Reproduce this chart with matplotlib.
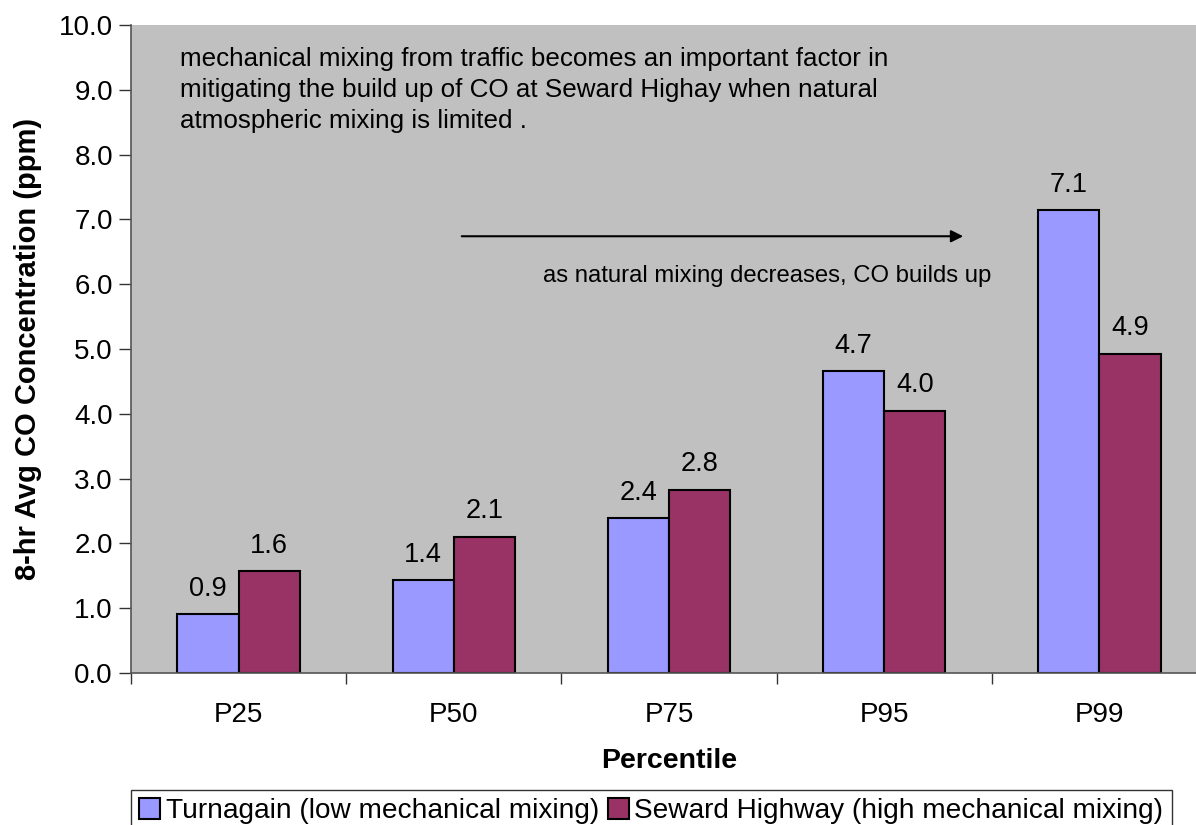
import numpy as np
import matplotlib
matplotlib.use("Agg")
import matplotlib.pyplot as plt

plt.rcParams['font.family'] = ['Liberation Sans', 'DejaVu Sans']

# Data
categories = ["P25", "P50", "P75", "P95", "P99"]
turnagain = [0.91, 1.43, 2.39, 4.66, 7.14]
seward = [1.57, 2.10, 2.83, 4.05, 4.93]
turnagain_labels = ["0.9", "1.4", "2.4", "4.7", "7.1"]
seward_labels = ["1.6", "2.1", "2.8", "4.0", "4.9"]

W, H = 1196, 825
fig = plt.figure(figsize=(W / 100, H / 100), dpi=100)
# plot area runs off the right edge like the original
left, right, top, bottom = 131, 1207, 25, 673
ax = fig.add_axes([left / W, 1 - bottom / H, (right - left) / W, (bottom - top) / H])
ax.set_facecolor("#c0c0c0")

x = np.arange(len(categories))
bw = 0.284
b1 = ax.bar(x - bw / 2, turnagain, bw, color="#9999ff", edgecolor="black", linewidth=1.5,
            label="Turnagain (low mechanical mixing)")
b2 = ax.bar(x + bw / 2, seward, bw, color="#993366", edgecolor="black", linewidth=1.5,
            label="Seward Highway (high mechanical mixing)")
ax.bar_label(b1, labels=turnagain_labels, padding=9, fontsize=19.5)
ax.bar_label(b2, labels=seward_labels, padding=9, fontsize=19.5)

ax.set_xlim(-0.5, len(categories) - 0.5)
ax.set_ylim(0, 10)
yt = np.arange(0, 10.01, 1.0)
ax.set_yticks(yt)
ax.set_yticklabels([f"{v:.1f}" for v in yt], fontsize=20)
ax.set_xticks(x)
ax.set_xticklabels(categories, fontsize=20)
ax.set_xticks(np.arange(-0.5, len(categories), 1.0), minor=True)
ax.tick_params(axis="x", which="major", length=0, pad=21)
ax.tick_params(axis="x", which="minor", length=8, width=1, color="#333333")
ax.tick_params(axis="y", length=9, width=1, color="#333333", pad=4)

for s in ["top", "right"]:
    ax.spines[s].set_visible(False)
for s in ["left", "bottom"]:
    ax.spines[s].set_color("#555555")
    ax.spines[s].set_linewidth(1.2)

ax.set_ylabel("8-hr Avg CO Concentration (ppm)", fontsize=21, fontweight="bold", labelpad=12)
ax.set_xlabel("Percentile", fontsize=20.5, fontweight="bold", labelpad=14)

# annotations
ax.text(-0.272, 9.66,
        "mechanical mixing from traffic becomes an important factor in\n"
        "mitigating the build up of CO at Seward Highay when natural\n"
        "atmospheric mixing is limited .",
        fontsize=18.75, va="top", ha="left", linespacing=1.38)
ax.annotate("", xy=(3.38, 6.74), xytext=(1.024, 6.74),
            arrowprops=dict(arrowstyle="-|>", color="black", lw=1.5, mutation_scale=18))
ax.text(1.414, 6.13, "as natural mixing decreases, CO builds up", fontsize=17.2, va="center", ha="left")

leg = fig.legend(loc="upper left", bbox_to_anchor=(131 / W, 1 - 790 / H), ncol=2, fontsize=20.2,
                 frameon=True, fancybox=False, edgecolor="black", handlelength=0.75,
                 handleheight=0.75, handletextpad=0.2, columnspacing=0.3, borderpad=0.3,
                 borderaxespad=0.0)
leg.get_frame().set_linewidth(1.0)

fig.savefig("out.png", dpi=100)
